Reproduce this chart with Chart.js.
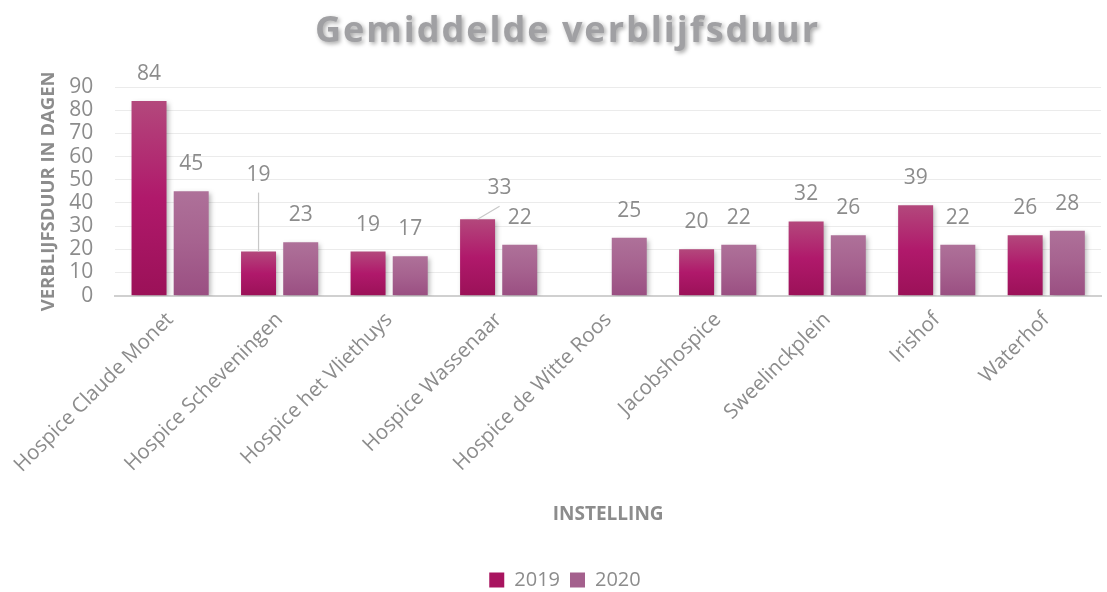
<!DOCTYPE html>
<html>
<head>
<meta charset="utf-8">
<script src="https://cdn.jsdelivr.net/npm/chart.js@4"></script>
<style>
  html, body { margin: 0; padding: 0; background: #fff; }
  #wrap { width: 1107px; height: 592px; }
</style>
</head>
<body>
<div id="wrap"><canvas id="chart"></canvas></div>
<script>
const categories = ['Hospice Claude Monet', 'Hospice Scheveningen', 'Hospice het Vliethuys',
  'Hospice Wassenaar', 'Hospice de Witte Roos', 'Jacobshospice', 'Sweelinckplein', 'Irishof', 'Waterhof'];
const values2019 = [84, 19, 19, 33, null, 20, 32, 39, 26];
const values2020 = [45, 23, 17, 22, 25, 22, 26, 22, 28];
const yTicks = [0, 10, 20, 30, 40, 50, 60, 70, 80, 90];

const grey = '#8c8c8c';
const font = '"Open Sans", sans-serif';

// gradient per bar, from its top down to the baseline
function barGradient(stops) {
    return (c) => {
        const chart = c.chart;
        const y = chart.scales && chart.scales.y;
        if (!chart.chartArea || !y || c.raw == null) return stops[1];
        const top = y.getPixelForValue(c.raw);
        const base = y.getPixelForValue(0);
        const g = chart.ctx.createLinearGradient(0, top, 0, base);
        g.addColorStop(0, stops[0]);
        g.addColorStop(0.5, stops[1]);
        g.addColorStop(1, stops[2]);
        return g;
    };
}

const shadowPlugin = {
    id: 'barShadow',
    beforeDatasetsDraw(chart) {
        const ctx = chart.ctx;
        ctx.save();
        ctx.shadowColor = 'rgba(0,0,0,0.3)';
        ctx.shadowBlur = 5;
        ctx.shadowOffsetX = 2;
        ctx.shadowOffsetY = 2;
    },
    afterDatasetsDraw(chart) {
        chart.ctx.restore();
    }
};

// value labels, some moved away with a leader line
const labelPlugin = {
    id: 'valueLabels',
    afterDatasetsDraw(chart, args, opts) {
        const ctx = chart.ctx;
        ctx.save();
        ctx.font = '21px ' + font;
        ctx.fillStyle = grey;
        ctx.textAlign = 'center';
        ctx.textBaseline = 'middle';
        chart.data.datasets.forEach((ds, di) => {
            chart.getDatasetMeta(di).data.forEach((bar, i) => {
                const v = ds.data[i];
                if (v == null) return;
                const shift = (opts.shifts || {})[di + ':' + i];
                let x = bar.x, y = bar.y - 27;
                if (shift) {
                    x += shift.dx;
                    y += shift.dy;
                    ctx.strokeStyle = '#c8c8c8';
                    ctx.lineWidth = 1.2;
                    ctx.beginPath();
                    ctx.moveTo(bar.x, bar.y);
                    ctx.lineTo(x, y + 18);
                    ctx.stroke();
                }
                ctx.fillText(String(v), x, y);
            });
        });
        ctx.restore();
    }
};

const titlePlugin = {
    id: 'bigTitle',
    afterDraw(chart) {
        const ctx = chart.ctx;
        ctx.save();
        ctx.font = 'bold 36px ' + font;
        ctx.letterSpacing = '2px';
        ctx.textAlign = 'center';
        ctx.textBaseline = 'middle';
        ctx.shadowColor = 'rgba(0,0,0,0.35)';
        ctx.shadowBlur = 4;
        ctx.shadowOffsetX = 2;
        ctx.shadowOffsetY = 2;
        ctx.fillStyle = '#a0a0a3';
        ctx.fillText('Gemiddelde verblijfsduur', chart.width / 2 + 14, 32);
        ctx.restore();
    }
};

new Chart(document.getElementById('chart'), {
    type: 'bar',
    data: {
        labels: categories,
        datasets: [{
            label: '2019',
            data: values2019,
            backgroundColor: barGradient(['#b3487c', '#b0196b', '#9b1158']),
            categoryPercentage: 0.77,
            barPercentage: 0.83
        }, {
            label: '2020',
            data: values2020,
            backgroundColor: barGradient(['#ae7199', '#a6628f', '#9a4f82']),
            categoryPercentage: 0.77,
            barPercentage: 0.83
        }]
    },
    options: {
        responsive: true,
        maintainAspectRatio: false,
        animation: false,
        layout: { padding: { top: 87, right: 6, left: 29, bottom: -8 } },
        scales: {
            x: {
                grid: { display: false, drawTicks: false },
                border: { color: '#d0d0d0', width: 2 },
                ticks: {
                    color: grey,
                    font: { family: font, size: 20.5 },
                    minRotation: 45,
                    maxRotation: 45,
                    padding: 12
                },
                title: {
                    display: true,
                    text: 'INSTELLING',
                    color: grey,
                    font: { family: font, size: 19, weight: 'bold' },
                    padding: { top: 14, bottom: 8 }
                }
            },
            y: {
                min: 0,
                max: 90,
                afterBuildTicks: (axis) => { axis.ticks = yTicks.map(v => ({ value: v })); },
                grid: { color: '#ebebeb', drawTicks: false },
                border: { display: false },
                ticks: {
                    color: grey,
                    font: { family: font, size: 21 },
                    padding: 22,
                    autoSkip: false
                },
                title: {
                    display: true,
                    text: 'VERBLIJFSDUUR IN DAGEN',
                    color: grey,
                    font: { family: font, size: 18.5, weight: 'bold' },
                    padding: { top: 0, bottom: -12 }
                }
            }
        },
        plugins: {
            legend: {
                position: 'bottom',
                // empty title only adds room above the legend items
                title: {
                    display: true,
                    text: ' ',
                    font: { size: 10 },
                    padding: { top: 14, bottom: 0 }
                },
                labels: {
                    color: grey,
                    font: { family: font, size: 20 },
                    boxWidth: 15,
                    boxHeight: 15,
                    padding: 10,
                    generateLabels: (chart) => chart.data.datasets.map((ds, i) => ({
                        text: ds.label,
                        fillStyle: i === 0 ? '#a8145f' : '#a4608d',
                        strokeStyle: 'transparent',
                        lineWidth: 0,
                        fontColor: grey,
                        datasetIndex: i
                    }))
                }
            },
            tooltip: { enabled: false },
            valueLabels: {
                shifts: {
                    '0:1': { dx: 0, dy: -50 },
                    '0:3': { dx: 22, dy: -4 }
                }
            }
        }
    },
    plugins: [shadowPlugin, labelPlugin, titlePlugin]
});
</script>
</body>
</html>
